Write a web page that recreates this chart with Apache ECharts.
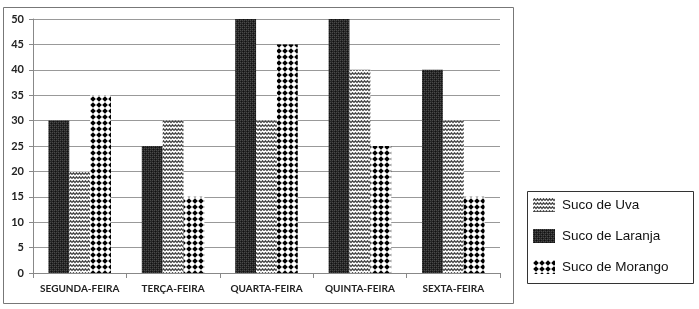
<!DOCTYPE html>
<html><head><meta charset="utf-8">
<script src="https://cdn.jsdelivr.net/npm/echarts@6/dist/echarts.min.js"></script>
<style>html,body{margin:0;padding:0;background:#fff}#c{width:699px;height:309px}</style>
</head><body><div id="c"></div>
<script>
var categories = ['SEGUNDA-FEIRA','TERÇA-FEIRA','QUARTA-FEIRA','QUINTA-FEIRA','SEXTA-FEIRA'];
var laranja = [30,25,50,50,40];
var uva = [20,30,30,40,30];
var morango = [35,15,45,25,15];
var yTicks = [0,5,10,15,20,25,30,35,40,45,50];

function pat(w,h,draw){var c=document.createElement('canvas');c.width=w;c.height=h;var x=c.getContext('2d');draw(x);return {image:c,repeat:'repeat'};}
var pLaranja = pat(4,4,function(x){x.fillStyle='#262626';x.fillRect(0,0,4,4);x.fillStyle='#4a4a4a';x.fillRect(0,0,1,1);x.fillRect(2,2,1,1);x.fillRect(2,0,1,1);x.fillRect(0,2,1,1);x.fillStyle='#111';x.fillRect(1,1,1,1);x.fillRect(3,3,1,1);});
var pUva = pat(6,4,function(x){x.fillStyle='#fff';x.fillRect(0,0,6,4);x.strokeStyle='#444';x.lineWidth=1.3;x.beginPath();x.moveTo(0,2.6);x.lineTo(1.5,0.8);x.lineTo(3,2.6);x.lineTo(4.5,0.8);x.lineTo(6,2.6);x.stroke();});
var pMorango = pat(6,6,function(x){x.fillStyle='#fff';x.fillRect(0,0,6,6);x.fillStyle='#000';x.beginPath();x.moveTo(3,0.2);x.lineTo(5.8,3);x.lineTo(3,5.8);x.lineTo(0.2,3);x.closePath();x.fill();});

var chart = echarts.init(document.getElementById('c'));
chart.setOption({
  animation:false,
  grid:{left:33,right:199,top:19,bottom:36},
  graphic:[
    {type:'rect',shape:{x:3.5,y:7.5,width:510,height:296},style:{fill:'none',stroke:'#777',lineWidth:1}},
    {type:'rect',shape:{x:527.5,y:191.5,width:166,height:92},style:{fill:'none',stroke:'#333',lineWidth:1}}
  ],
  legend:{orient:'vertical',left:528,top:193,itemWidth:22,itemHeight:14,itemGap:17,icon:'rect',
    data:['Suco de Uva','Suco de Laranja','Suco de Morango'],
    textStyle:{fontFamily:'Liberation Sans',fontSize:13.5,color:'#111',padding:[0,0,0,2]}},
  xAxis:{type:'category',data:categories,
    axisLine:{lineStyle:{color:'#888'}},
    axisTick:{show:true,length:5,lineStyle:{color:'#888'}},
    axisLabel:{interval:0,fontFamily:'Lato',fontWeight:'bold',fontSize:10,color:'#222',margin:11}},
  yAxis:{type:'value',min:0,max:50,interval:5,
    axisLine:{show:true,lineStyle:{color:'#888'}},
    axisTick:{show:true,length:4,lineStyle:{color:'#888'}},
    splitLine:{lineStyle:{color:'#999'}},
    axisLabel:{fontFamily:'Lato',fontWeight:'bold',fontSize:11,color:'#222',margin:9,
      formatter:function(v){return yTicks.indexOf(v)>=0?String(v):'';}}},
  series:[
    {name:'Suco de Laranja',type:'bar',data:laranja,barGap:'0%',barCategoryGap:'33%',itemStyle:{color:pLaranja}},
    {name:'Suco de Uva',type:'bar',data:uva,itemStyle:{color:pUva}},
    {name:'Suco de Morango',type:'bar',data:morango,itemStyle:{color:pMorango}}
  ]
});
</script></body></html>
